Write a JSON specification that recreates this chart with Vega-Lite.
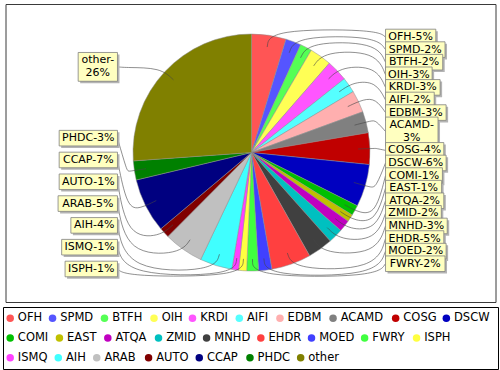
{
  "$schema": "https://vega.github.io/schema/vega-lite/v6.json",
  "autosize": {"type": "pad"},
  "bounds": "flush",
  "padding": {"left": 2, "top": 3, "right": 3, "bottom": 2},
  "background": "white",
  "center": true,
  "spacing": 5,
  "config": {
    "view": {"stroke": null},
    "text": {"font": "DejaVu Sans"}
  },
  "datasets": {
    "pie": [
      {"name": "OFH", "value": 4.7, "label": "OFH-5%"},
      {"name": "SPMD", "value": 2.1, "label": "SPMD-2%"},
      {"name": "BTFH", "value": 1.6, "label": "BTFH-2%"},
      {"name": "OIH", "value": 3.0, "label": "OIH-3%"},
      {"name": "KRDI", "value": 2.9, "label": "KRDI-3%"},
      {"name": "AIFI", "value": 2.1, "label": "AIFI-2%"},
      {"name": "EDBM", "value": 3.0, "label": "EDBM-3%"},
      {"name": "ACAMD", "value": 2.9, "label": "ACAMD-\n3%"},
      {"name": "COSG", "value": 4.3, "label": "COSG-4%"},
      {"name": "DSCW", "value": 5.8, "label": "DSCW-6%"},
      {"name": "COMI", "value": 1.4, "label": "COMI-1%"},
      {"name": "EAST", "value": 1.0, "label": "EAST-1%"},
      {"name": "ATQA", "value": 1.6, "label": "ATQA-2%"},
      {"name": "ZMID", "value": 2.0, "label": "ZMID-2%"},
      {"name": "MNHD", "value": 3.4, "label": "MNHD-3%"},
      {"name": "EHDR", "value": 5.4, "label": "EHDR-5%"},
      {"name": "MOED", "value": 1.8, "label": "MOED-2%"},
      {"name": "FWRY", "value": 1.6, "label": "FWRY-2%"},
      {"name": "ISPH", "value": 1.1, "label": "ISPH-1%"},
      {"name": "ISMQ", "value": 0.9, "label": "ISMQ-1%"},
      {"name": "AIH", "value": 4.4, "label": "AIH-4%"},
      {"name": "ARAB", "value": 5.4, "label": "ARAB-5%"},
      {"name": "AUTO", "value": 1.4, "label": "AUTO-1%"},
      {"name": "CCAP", "value": 7.4, "label": "CCAP-7%"},
      {"name": "PHDC", "value": 2.6, "label": "PHDC-3%"},
      {"name": "other", "value": 26.1, "label": "other-\n26%"}
    ]
  },
  "vconcat": [
    {
      "width": 490,
      "height": 298,
      "view": {"stroke": "#3a3a3a", "strokeWidth": 1},
      "data": {"name": "pie"},
      "transform": [
        {"window": [{"op": "row_number", "as": "idx"}]},
        {"joinaggregate": [{"op": "sum", "field": "value", "as": "total"}]},
        {"window": [{"op": "sum", "field": "value", "as": "cum"}], "sort": [{"field": "idx", "order": "ascending"}], "frame": [null, 0]},
        {"calculate": "(datum.cum - datum.value/2)/datum.total*2*PI", "as": "mid"},
        {"calculate": "datum.mid < PI ? 'R' : 'L'", "as": "side"},
        {"calculate": "datum.side == 'R' ? 1 : -1", "as": "sgn"},
        {"calculate": "length(split(datum.label, '\\n'))", "as": "n"},
        {"calculate": "split(datum.label, '\\n')[0]", "as": "t1"},
        {"window": [{"op": "sum", "field": "n", "as": "cn"}, {"op": "row_number", "as": "k"}], "groupby": ["side"], "sort": [{"field": "idx", "order": "ascending"}], "frame": [null, 0]},
        {"calculate": "datum.side == 'R' ? 0.9747 - 0.1063*(datum.cn - datum.n + (datum.n-1)/2) : max(-0.983 + 0.184*(datum.k-1), 1.06*cos(datum.mid))", "as": "ly"},
        {"calculate": "datum.ly + (datum.n-1)*6.5/118.5", "as": "ty"},
        {"calculate": "6.9*length(datum.t1) + 3.4*(length(datum.t1)-length(replace(datum.t1, regexp('[MW%]','g'), ''))) + 1.1*(length(datum.t1)-length(replace(datum.t1, regexp('[ODHGQNUCABRKX]','g'), ''))) - 3.7*(length(datum.t1)-length(replace(datum.t1, regexp('I','g'), ''))) - 2.7*(length(datum.t1)-length(replace(datum.t1, regexp('[tr-]','g'), '')))", "as": "tw"},
        {"calculate": "(datum.tw + 6)/118.5", "as": "bw"},
        {"calculate": "datum.sgn*1.131", "as": "bx1"},
        {"calculate": "datum.sgn*(1.131 + datum.bw)", "as": "bx2"},
        {"calculate": "datum.sgn*(1.131 + datum.bw/2)", "as": "tx"},
        {"calculate": "datum.ly + (datum.n*6.6 + 1.2)/118.5", "as": "by1"},
        {"calculate": "datum.ly - (datum.n*6.6 + 1.2)/118.5", "as": "by2"}
      ],
      "layer": [
        {
          "data": {"values": [{"v": 1}]},
          "mark": {"type": "arc", "radius": 118.5, "fill": "#9a9a9a", "xOffset": 4, "yOffset": 4},
          "encoding": {
            "theta": {"field": "v", "type": "quantitative"},
            "x": {"datum": 0, "type": "quantitative", "scale": {"domain": [-2.0759, 2.0591], "nice": false, "zero": false}, "axis": null},
            "y": {"datum": 0, "type": "quantitative", "scale": {"domain": [-1.2616, 1.2532], "nice": false, "zero": false}, "axis": null}
          }
        },
        {
          "mark": {"type": "arc", "radius": 118.5, "stroke": "#8c8c8c", "strokeWidth": 0.5},
          "encoding": {
            "theta": {"field": "value", "type": "quantitative", "stack": true},
            "order": {"field": "idx", "type": "quantitative"},
            "color": {"field": "name", "type": "nominal", "legend": null,
              "scale": {
                "domain": ["OFH","SPMD","BTFH","OIH","KRDI","AIFI","EDBM","ACAMD","COSG","DSCW","COMI","EAST","ATQA","ZMID","MNHD","EHDR","MOED","FWRY","ISPH","ISMQ","AIH","ARAB","AUTO","CCAP","PHDC","other"],
                "range": ["#FF5555","#5555FF","#55FF55","#FFFF55","#FF55FF","#55FFFF","#FFAFAF","#808080","#C00000","#0000C0","#00C000","#C0C000","#C000C0","#00C0C0","#404040","#FF4040","#4040FF","#40FF40","#FFFF40","#FF40FF","#40FFFF","#C0C0C0","#800000","#000080","#008000","#808000"]
              }},
            "x": {"datum": 0, "type": "quantitative", "axis": null},
            "y": {"datum": 0, "type": "quantitative", "axis": null}
          }
        },
        {
          "transform": [
            {"calculate": "[0,1,2,3]", "as": "pts"},
            {"flatten": ["pts"]},
            {"calculate": "datum.pts == 0 ? datum.sgn*1.131 : datum.pts == 1 ? datum.sgn*1.05 : datum.pts == 2 ? 1.05*sin(datum.mid) : 0.9*sin(datum.mid)", "as": "px"},
            {"calculate": "datum.pts == 0 ? datum.ly : datum.pts <= 2 ? 1.05*cos(datum.mid) : 0.9*cos(datum.mid)", "as": "py"}
          ],
          "mark": {"type": "line", "interpolate": "basis", "stroke": "#444444", "strokeWidth": 0.6},
          "encoding": {
            "x": {"field": "px", "type": "quantitative", "axis": null},
            "y": {"field": "py", "type": "quantitative", "axis": null},
            "detail": {"field": "name", "type": "nominal"},
            "order": {"field": "pts", "type": "quantitative"}
          }
        },
        {
          "mark": {"type": "rect", "fill": "#b4b4b4", "xOffset": 2, "x2Offset": 2, "yOffset": 2, "y2Offset": 2},
          "encoding": {
            "x": {"field": "bx1", "type": "quantitative", "axis": null},
            "x2": {"field": "bx2"},
            "y": {"field": "by1", "type": "quantitative", "axis": null},
            "y2": {"field": "by2"}
          }
        },
        {
          "mark": {"type": "rect", "fill": "#FFFFC0", "stroke": "#808080", "strokeWidth": 0.8},
          "encoding": {
            "x": {"field": "bx1", "type": "quantitative", "axis": null},
            "x2": {"field": "bx2"},
            "y": {"field": "by1", "type": "quantitative", "axis": null},
            "y2": {"field": "by2"}
          }
        },
        {
          "mark": {"type": "text", "align": "center", "baseline": "middle", "fontSize": 11, "font": "DejaVu Sans", "lineBreak": "\n", "lineHeight": 13, "color": "black"},
          "encoding": {
            "x": {"field": "tx", "type": "quantitative", "axis": null},
            "y": {"field": "ty", "type": "quantitative", "axis": null},
            "text": {"field": "label", "type": "nominal"}
          }
        }
      ]
    },
    {
      "width": 495,
      "height": 62,
      "view": {"stroke": "black", "strokeWidth": 1},
      "data": {"name": "pie"},
      "transform": [
        {"window": [{"op": "row_number", "as": "idx"}]},
        {"calculate": "1.045*(6.9*length(datum.name) + 3.4*(length(datum.name)-length(replace(datum.name, regexp('[MW%]','g'), ''))) + 1.1*(length(datum.name)-length(replace(datum.name, regexp('[ODHGQNUCABRKX]','g'), ''))) - 3.7*(length(datum.name)-length(replace(datum.name, regexp('I','g'), ''))) - 2.7*(length(datum.name)-length(replace(datum.name, regexp('[tr-]','g'), ''))))", "as": "lw"},
        {"calculate": "8.3 + 3.5 + datum.lw + 6.6", "as": "iw"},
        {"window": [{"op": "sum", "field": "iw", "as": "cend"}], "sort": [{"field": "idx", "order": "ascending"}], "frame": [null, 0]},
        {"calculate": "floor((datum.cend - 6.6)/490)", "as": "row"},
        {"calculate": "datum.cend - datum.iw", "as": "cstart"},
        {"joinaggregate": [{"op": "min", "field": "cstart", "as": "rstart"}], "groupby": ["row"]},
        {"calculate": "datum.cstart - datum.rstart + 7.2", "as": "sx"},
        {"calculate": "datum.sx + 7.65", "as": "lx"}
      ],
      "layer": [
        {
          "mark": {"type": "point", "shape": "circle", "filled": true, "opacity": 1, "size": 56},
          "encoding": {
            "x": {"field": "sx", "type": "quantitative", "scale": {"domain": [0, 495], "nice": false, "zero": false}, "axis": null},
            "y": {"field": "row", "type": "ordinal", "scale": {"type": "point", "domain": [0, 1, 2], "padding": 0.565}, "axis": null},
            "color": {"field": "name", "type": "nominal", "legend": null,
              "scale": {
                "domain": ["OFH","SPMD","BTFH","OIH","KRDI","AIFI","EDBM","ACAMD","COSG","DSCW","COMI","EAST","ATQA","ZMID","MNHD","EHDR","MOED","FWRY","ISPH","ISMQ","AIH","ARAB","AUTO","CCAP","PHDC","other"],
                "range": ["#FF5555","#5555FF","#55FF55","#FFFF55","#FF55FF","#55FFFF","#FFAFAF","#808080","#C00000","#0000C0","#00C000","#C0C000","#C000C0","#00C0C0","#404040","#FF4040","#4040FF","#40FF40","#FFFF40","#FF40FF","#40FFFF","#C0C0C0","#800000","#000080","#008000","#808000"]
              }}
          }
        },
        {
          "mark": {"type": "text", "align": "left", "baseline": "middle", "fontSize": 11.5, "font": "DejaVu Sans", "color": "black"},
          "encoding": {
            "x": {"field": "lx", "type": "quantitative", "axis": null},
            "y": {"field": "row", "type": "ordinal", "axis": null},
            "text": {"field": "name", "type": "nominal"}
          }
        }
      ]
    }
  ]
}
